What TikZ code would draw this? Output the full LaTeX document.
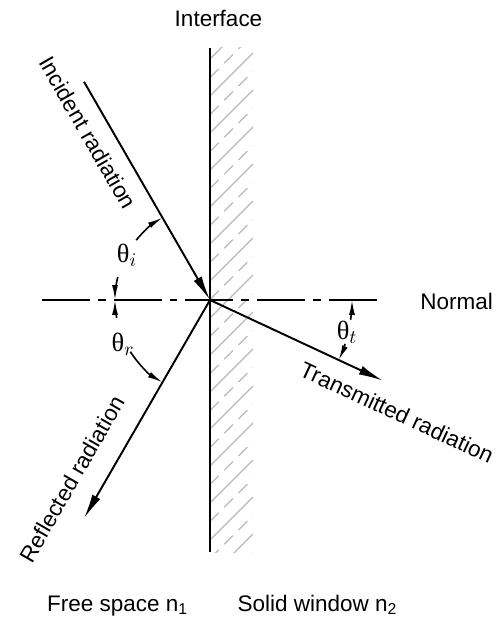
\documentclass[tikz,border=0pt]{standalone}
\usepackage{fontspec}
\setmainfont{Liberation Sans}
\newfontfamily\thetafont{Liberation Serif}
\usetikzlibrary{arrows.meta, calc}
\definecolor{hatchgray}{RGB}{185,185,185}
\tikzset{
  ray/.style={line width=1.1pt, -{Latex[length=14pt,width=5.2pt]}},
  angarc/.style={line width=0.9pt, -{Latex[length=8.5pt,width=3.4pt]}},
  lbl/.style={font=\fontsize{12.8}{15}\selectfont, inner sep=0pt},
  anglbl/.style={font=\fontsize{15}{17}\thetafont, inner sep=0pt},
  hatchline/.style={hatchgray, line width=0.8pt}
}

\begin{document}
\begin{tikzpicture}[x=0.02cm,y=0.02cm]
\useasboundingbox (-210,-325) rectangle (285,300);

% ── Points ───────────────────────────────────────────────────────────────────
\coordinate (O) at (0,0);
\coordinate (inc) at (120:252);
\coordinate (refl) at (240:252);
\coordinate (trans) at (-25:191);
\coordinate (ifacetop) at (0,252);
\coordinate (ifacebot) at (0,-252);
\coordinate (nrmleft) at (-168,0);
\coordinate (nrmright) at (168,0);

% ── Window hatching ──────────────────────────────────────────────────────────
\begin{scope}
  \clip (0,-252) rectangle (43,252);
  \foreach \k in {0,...,16} {
    \draw[hatchline] (0,278-37*\k) -- ++(43,43);
    \draw[hatchline, dash pattern=on 7pt off 4.5pt] (0,259.5-37*\k) -- ++(43,43);
  }
\end{scope}

% ── Interface and normal ─────────────────────────────────────────────────────
\draw[line width=1.4pt] (ifacetop) -- (ifacebot);
\draw[line width=1.1pt, dash pattern=on 27.3pt off 4.5pt on 4.5pt off 4.5pt]
     (nrmleft) -- (nrmright);

% ── Rays ─────────────────────────────────────────────────────────────────────
\draw[ray] (inc) -- (O);
\draw[ray] (O) -- (refl);
\draw[ray] (O) -- (trans);

% ── Angles ───────────────────────────────────────────────────────────────────
\draw[angarc] (166:95) arc[start angle=166, end angle=180, radius=95];
\draw[angarc] (141:95) arc[start angle=141, end angle=120, radius=95];
\draw[angarc] (191:95) arc[start angle=191, end angle=180, radius=95];
\draw[angarc] (213:95) arc[start angle=213, end angle=240, radius=95];
\draw[angarc] (-8:142) arc[start angle=-8, end angle=0, radius=142];
\draw[angarc] (-18:142) arc[start angle=-18, end angle=-25, radius=142];

\node[anglbl] (thi) at (-83,45) {θ$_i$};
\node[anglbl] (thr) at (-87,-44) {θ$_r$};
\node[anglbl] (tht) at (137,-32) {θ$_t$};

% ── Labels ───────────────────────────────────────────────────────────────────
\node[lbl, anchor=base] (ifacelbl) at (8.5,273) {Interface};
\node[lbl, anchor=base west] (nrmlbl) at (210,-10) {Normal};
\node[lbl, rotate=-60] (inclbl) at ($(120:206)+(210:22)$) {Incident radiation};
\node[lbl, rotate=60] (refllbl) at ($(240:224)+(150:30)$) {Reflected radiation};
\node[lbl, rotate=-25] (translbl) at ($(-25:217)+(-115:23)$) {Transmitted radiation};
\node[lbl, anchor=base] (freelbl) at (-92.5,-311) {Free space n\textsubscript{1}};
\node[lbl, anchor=base] (solidlbl) at (107.5,-311) {Solid window n\textsubscript{2}};

\end{tikzpicture}
\end{document}
